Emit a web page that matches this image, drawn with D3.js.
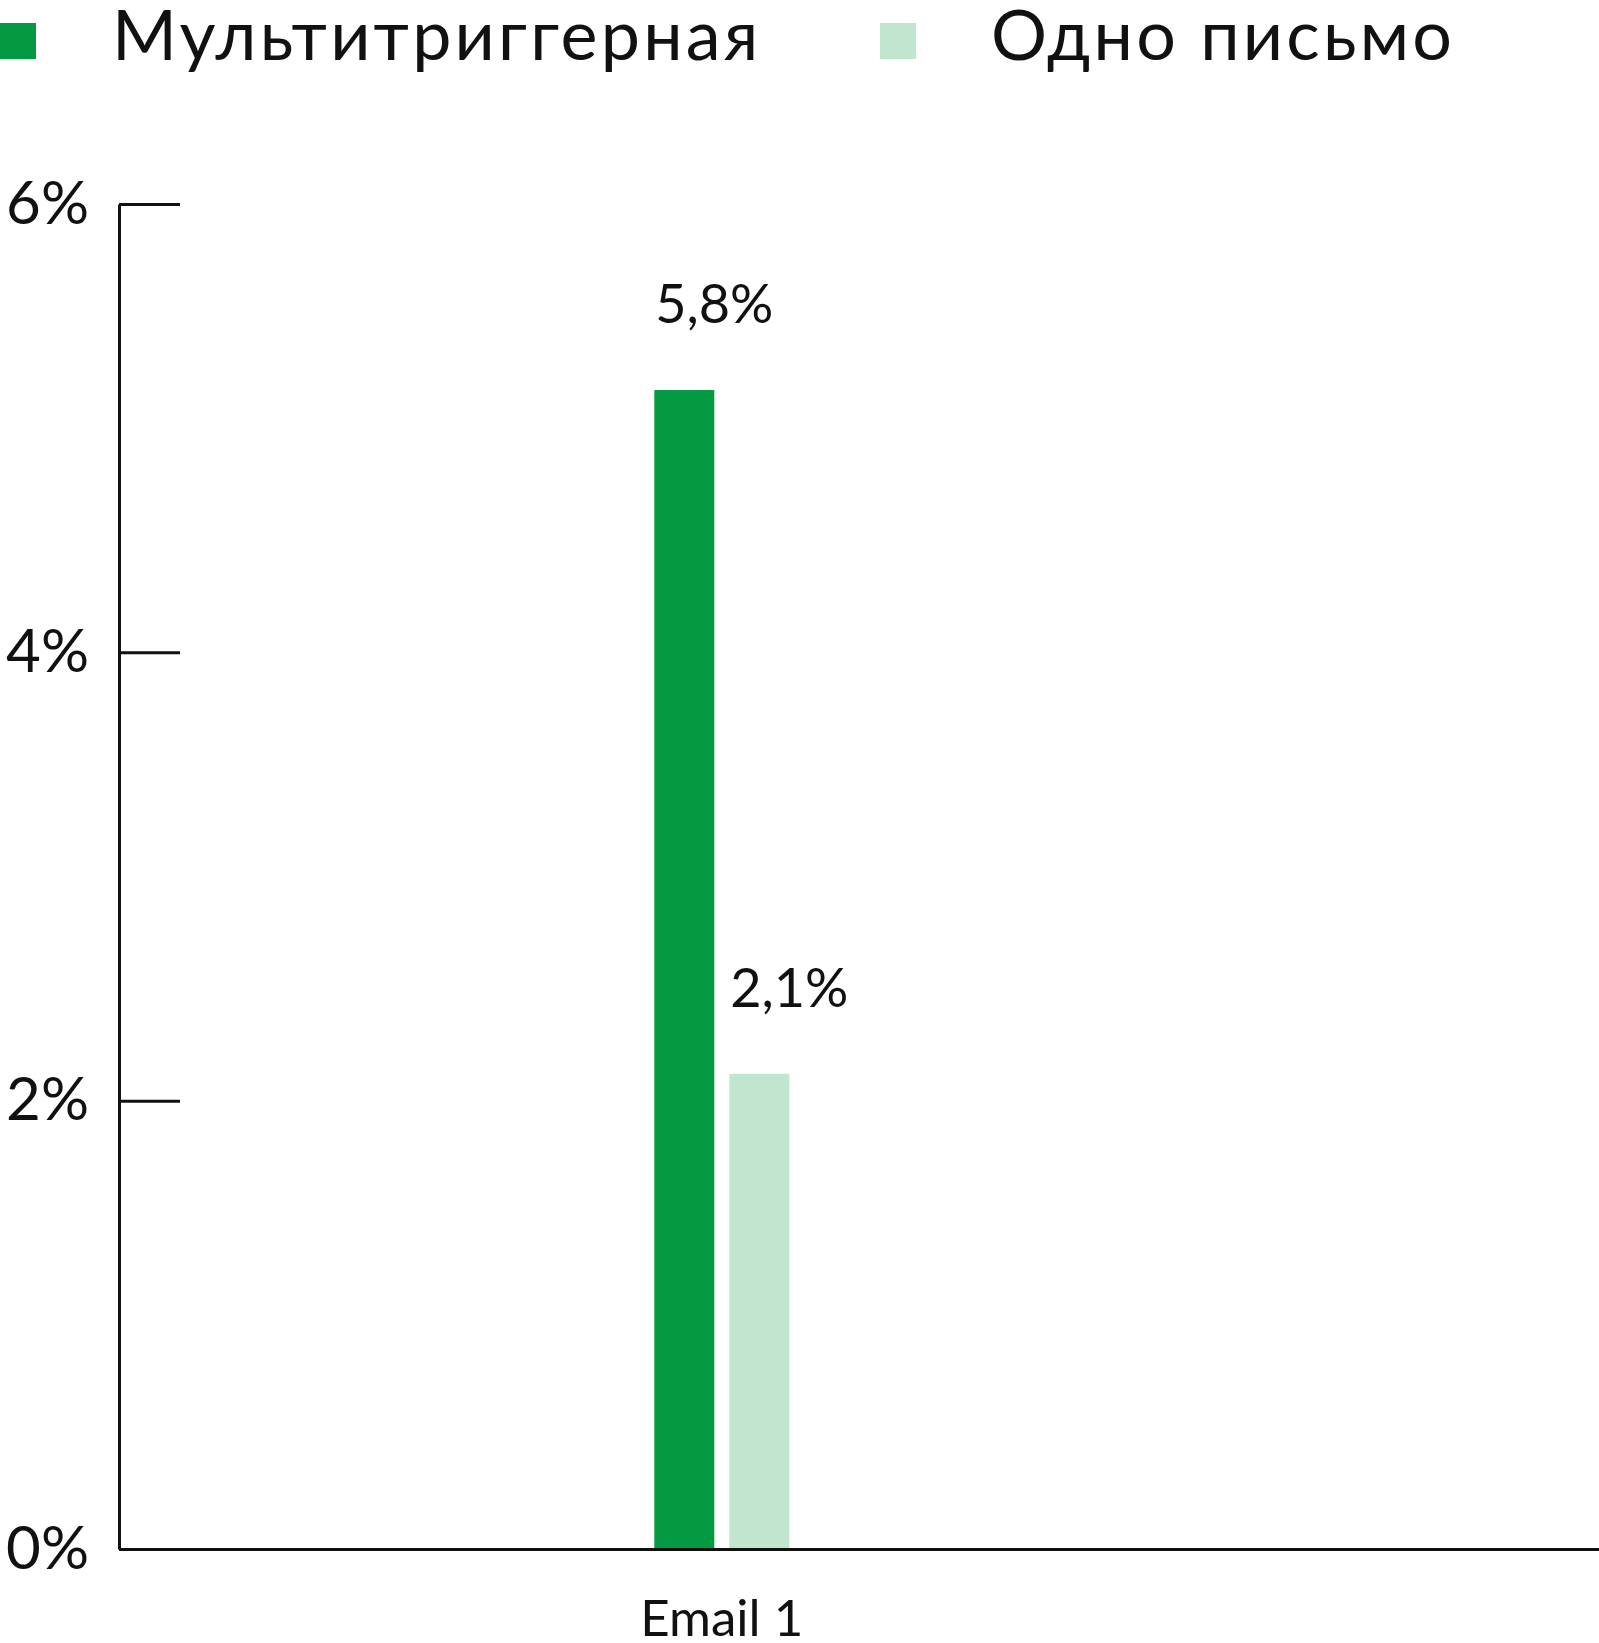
<!DOCTYPE html>
<html>
<head>
<meta charset="utf-8">
<script src="https://cdn.jsdelivr.net/npm/d3@7"></script>
<style>
  body { margin: 0; background: #fff; }
  text { font-family: Lato, "Noto Sans", sans-serif; fill: #111; }
</style>
</head>
<body>
<script>
// data
var categories = ['Email 1'];
var seriesNames = ['Мультитриггерная', 'Одно письмо'];
var seriesColors = ['#039a42', '#c0e6d0'];
// bar heights as drawn (in %), and the labels printed above them
var multiValues = [5.17];
var singleValues = [2.12];
var multiLabels = ['5,8%'];
var singleLabels = ['2,1%'];
var yTicks = [0, 2, 4, 6];

// set the dimensions and margins of the graph
var margin = {top: 204, right: 0, bottom: 94, left: 119},
    width = 1599 - margin.left - margin.right,
    height = 1643 - margin.top - margin.bottom;

var rows = categories.map(function(c, i) {
    return {
        cat: c,
        vals: [
            {key: seriesNames[0], v: multiValues[i], label: multiLabels[i], color: seriesColors[0]},
            {key: seriesNames[1], v: singleValues[i], label: singleLabels[i], color: seriesColors[1]}
        ]
    };
});

// set the ranges
var groupWidth = 135;
var xScale = d3.scaleBand()
    .domain(categories)
    .range([0, width])
    .paddingInner(0)
    .paddingOuter((width / groupWidth - 1) / 2)
    .align(0.398);
var xSub = d3.scaleBand()
    .domain(seriesNames)
    .range([0, xScale.bandwidth()])
    .paddingInner(0.2);
var yScale = d3.scaleLinear().domain([0, 6]).range([height, 0]);

var svg = d3.select('body')
    .append('svg')
    .attr('width', 1599)
    .attr('height', 1643);

// legend
var legend = svg.append('g');
var legendX = [0, 880];
var legendTextX = [112, 991];
seriesNames.forEach(function(name, i) {
    legend.append('rect')
        .attr('x', legendX[i])
        .attr('y', 23)
        .attr('width', 36)
        .attr('height', 36)
        .attr('fill', seriesColors[i]);
    legend.append('text')
        .attr('x', legendTextX[i])
        .attr('y', 60)
        .attr('font-size', '70px')
        .attr('letter-spacing', '3.2px')
        .text(name);
});

var g = svg.append('g')
    .attr('transform', 'translate(' + margin.left + ',' + margin.top + ')');

// bars
var groups = g.selectAll('.grp')
    .data(rows)
    .enter()
    .append('g')
    .attr('class', 'grp')
    .attr('transform', function(d) { return 'translate(' + xScale(d.cat) + ',0)'; });

groups.selectAll('rect')
    .data(function(d) { return d.vals; })
    .enter()
    .append('rect')
    .attr('x', function(d) { return xSub(d.key); })
    .attr('y', function(d) { return yScale(d.v); })
    .attr('width', xSub.bandwidth())
    .attr('height', function(d) { return height - yScale(d.v); })
    .attr('fill', function(d) { return d.color; });

// value labels
groups.selectAll('.val')
    .data(function(d) { return d.vals; })
    .enter()
    .append('text')
    .attr('class', 'val')
    .attr('x', function(d) { return xSub(d.key) + xSub.bandwidth(); })
    .attr('y', function(d) { return yScale(d.v) - 67; })
    .attr('text-anchor', 'middle')
    .attr('font-size', '54px')
    .text(function(d) { return d.label; });

// y axis, ticks point into the plot
var yAxis = g.append('g')
    .call(d3.axisLeft(yScale)
        .tickValues(yTicks)
        .tickSizeInner(-61)
        .tickSizeOuter(0)
        .tickPadding(30)
        .tickFormat(function(d) { return d + '%'; }));
yAxis.selectAll('path, line').attr('stroke', '#111').attr('stroke-width', 3);
yAxis.selectAll('text').attr('font-size', '60px').attr('fill', '#111')
    .style('font-family', 'Lato, "Noto Sans", sans-serif');

// x axis
var xAxis = g.append('g')
    .attr('transform', 'translate(0,' + height + ')')
    .call(d3.axisBottom(xScale).tickSize(0).tickPadding(51));
xAxis.select('.domain').attr('stroke', '#111').attr('stroke-width', 3);
xAxis.selectAll('text').attr('font-size', '51px').attr('fill', '#111')
    .style('font-family', 'Lato, "Noto Sans", sans-serif');
</script>
</body>
</html>
